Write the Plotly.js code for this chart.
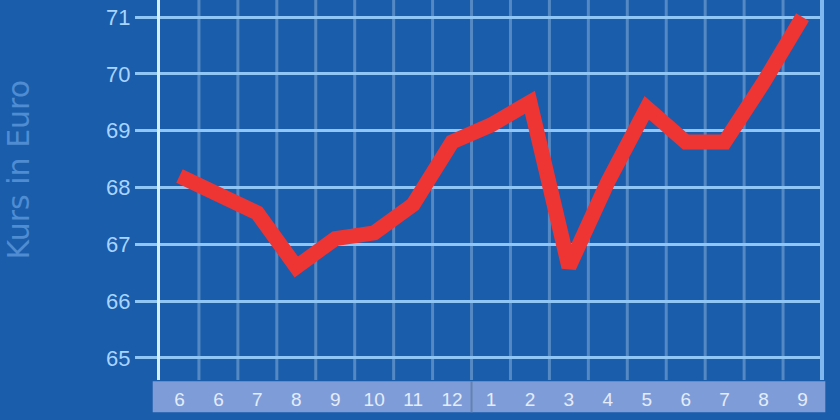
<!DOCTYPE html>
<html>
<head>
<meta charset="utf-8">
<script src="https://cdn.plot.ly/plotly-3.0.1.min.js"></script>
<style>
  html, body { margin: 0; padding: 0; background: #1a5dab; }
  #chart { width: 840px; height: 420px; }
</style>
</head>
<body>
<div id="chart"></div>
<script>
// monthly course, Jun .. Sep of next year
const months = ["6", "6", "7", "8", "9", "10", "11", "12", "1", "2", "3", "4", "5", "6", "7", "8", "9"];
const kurs = [68.2, 67.9, 67.55, 66.6, 67.1, 67.2, 67.7, 68.8, 69.1, 69.5, 66.6, 68.1, 69.4, 68.8, 68.8, 69.85, 71.0];
const yTicks = [65, 66, 67, 68, 69, 70, 71];

const xIdx = months.map((m, i) => i);

const bg = "#1a5dab";
const font = "Liberation Sans Narrow, Liberation Sans, Arial, sans-serif";

const trace = {
  x: xIdx,
  y: kurs,
  mode: "lines",
  type: "scatter",
  line: { color: "#ef3434", width: 15 },
  hoverinfo: "skip"
};

const layout = {
  width: 840,
  height: 420,
  paper_bgcolor: bg,
  plot_bgcolor: bg,
  showlegend: false,
  margin: { l: 160, r: 18, t: 0, b: 40 },
  xaxis: {
    range: [-0.5, months.length - 0.5],
    tickvals: xIdx,
    ticktext: months,
    ticks: "outside",
    ticklen: 2,
    tickcolor: "rgba(0,0,0,0)",
    showgrid: false,
    zeroline: false,
    showline: false,
    tickfont: { family: font, size: 19, color: "#e4ecf8" },
    fixedrange: true
  },
  yaxis: {
    range: [64.61, 71.3],
    tickvals: yTicks,
    ticks: "outside",
    ticklen: 22,
    tickwidth: 3,
    tickcolor: "#8fc6f6",
    showgrid: true,
    gridcolor: "#8fc6f6",
    gridwidth: 3,
    zeroline: false,
    showline: true,
    linecolor: "#d4eeff",
    linewidth: 3,
    tickfont: { family: font, size: 22, color: "#a9d4ff" },
    fixedrange: true
  },
  shapes: [
    // label band under the plot
    { type: "rect", xref: "paper", yref: "paper", x0: -0.011, x1: 1.005, y0: -0.003, y1: -0.085,
      fillcolor: "#7e9dd8", line: { width: 0 }, layer: "below" },
    // right border
    { type: "line", xref: "paper", yref: "paper", x0: 1, x1: 1, y0: 0, y1: 1,
      line: { color: "#80b7ee", width: 4 } },
    // year divider in label band
    { type: "line", xref: "x", yref: "paper", x0: 7.5, x1: 7.5, y0: -0.003, y1: -0.085,
      line: { color: "#6680b0", width: 2 } }
  ],
  annotations: [
    { text: "Kurs in Euro", xref: "paper", yref: "paper", x: -0.214, y: 0.555,
      showarrow: false, textangle: -90, xanchor: "center", yanchor: "middle",
      font: { family: "DejaVu Sans, sans-serif", size: 30, color: "#4f8cd2" } }
  ]
};

// vertical grid lines at the month boundaries
for (let i = 0; i < months.length; i++) {
  if (i === 0) continue;
  layout.shapes.push({
    type: "line", xref: "x", yref: "paper", x0: i - 0.5, x1: i - 0.5, y0: 0, y1: 1,
    line: { color: "#5589c4", width: 3 }, layer: "below"
  });
}

Plotly.newPlot("chart", [trace], layout, { displayModeBar: false, staticPlot: true });
</script>
</body>
</html>
